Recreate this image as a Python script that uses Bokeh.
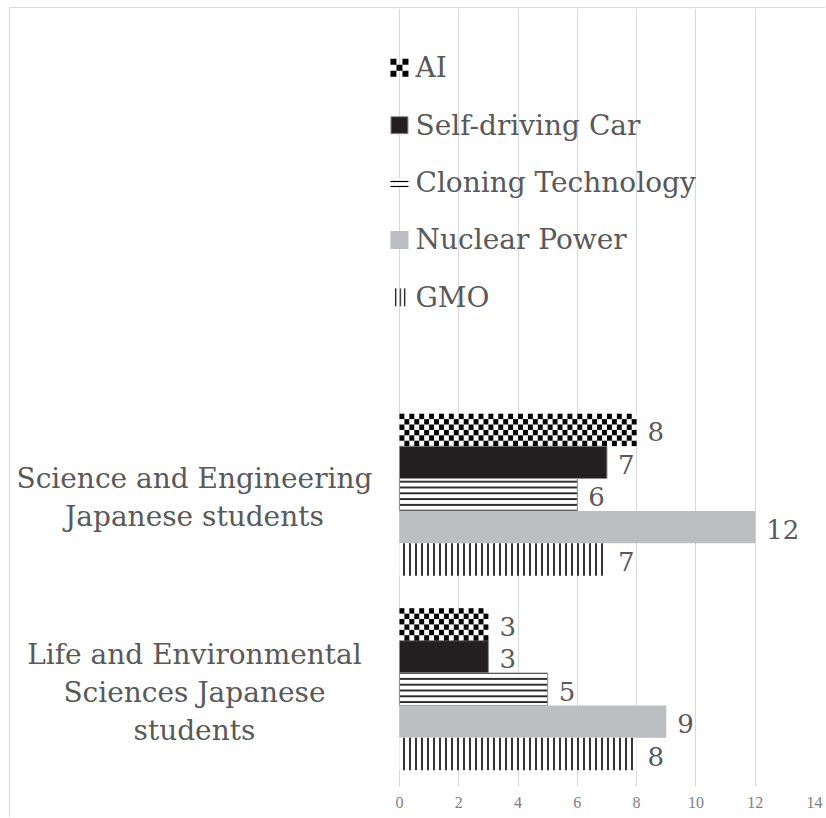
from bokeh.plotting import figure
from bokeh.models import ColumnDataSource, Range1d, FixedTicker
from bokeh.core.properties import value
from bokeh.embed import file_html
from bokeh.resources import INLINE

# ---- data ----
categories = ["Life and Environmental\nSciences Japanese\nstudents",
              "Science and Engineering\nJapanese students"]
series = ["AI", "Self-driving Car", "Cloning Technology", "Nuclear Power", "GMO"]
ai = [3, 8]
self_driving = [3, 7]
cloning = [5, 6]
nuclear = [9, 12]
gmo = [8, 7]
x_ticks = [0, 2, 4, 6, 8, 10, 12, 14]

values = [ai, self_driving, cloning, nuclear, gmo]

SERIF = "DejaVu Serif"
TXT = "#595959"
GRID = "#d9d9d9"

# frame geometry (px) and ranges
FW, FH = 804, 778
X0, X1 = -13.12, 14.0
Y0, Y1 = 0.0, 4.0
PXX = (X1 - X0) / FW   # data units per px (x)
PXY = (Y1 - Y0) / FH   # data units per px (y)

p = figure(width=816, height=810, output_backend="svg", toolbar_location=None,
           x_range=Range1d(X0, X1), y_range=Range1d(Y0, Y1),
           min_border_left=0, min_border_right=12, min_border_top=0, min_border_bottom=32)
p.styles = {"margin-left": "9px", "margin-top": "7px",
            "border-left": "1px solid " + GRID, "border-top": "1px solid " + GRID}
p.outline_line_color = None
p.background_fill_color = "white"
p.border_fill_color = "white"

# two category slots at bottom; legend sits in the upper two slots
cat_pos = [i + 0.5 for i in range(len(categories))]
bar_h = 0.8333 / len(series)
offsets = [2 * bar_h, bar_h, 0.0, -bar_h, -2 * bar_h]

styles = [
    dict(fill_color="white", line_color=None),
    dict(fill_color="#231f20", line_color="#8c8c8c", line_width=1),
    dict(fill_color="white", line_color="#8c8c8c", line_width=1, hatch_pattern="horizontal_line",
         hatch_color="black", hatch_scale=5.8, hatch_weight=1.6),
    dict(fill_color="#bdbec1", line_color=None),
    dict(fill_color="white", line_color=None, hatch_pattern="vertical_line",
         hatch_color="black", hatch_scale=6, hatch_weight=1.6),
]

for name, vals, off, st in zip(series, values, offsets, styles):
    ys = [c + off for c in cat_pos]
    src = ColumnDataSource(dict(y=ys, right=vals, lbl=[str(v) for v in vals]))
    p.hbar(y="y", left=0, right="right", height=bar_h, source=src, **st)
    p.text(x="right", y="y", text="lbl", source=src, x_offset=11, y_offset=2, text_align="left",
           text_baseline="middle", text_font=value(SERIF), text_font_size="26px", text_color=TXT)

# checkerboard cells for the AI bars (6 rows, 6 cells per unit)
cx, cy = [], []
cw = 1.0 / 6
chh = bar_h / 6
for v, c in zip(ai, cat_pos):
    top = c + offsets[0] + bar_h / 2
    for r in range(6):
        for k in range(int(round(v * 6))):
            if (r + k) % 2 == 0:
                cx.append((k + 0.5) * cw)
                cy.append(top - (r + 0.5) * chh)
p.rect(x=cx, y=cy, width=cw, height=chh, fill_color="black", line_color=None)

# category labels
p.text(x=[-205 * PXX] * len(categories), y=cat_pos, text=categories, text_align="center",
       text_baseline="middle", y_offset=3, text_font=value(SERIF), text_font_size="28px",
       text_color=TXT, text_line_height=1.15)

# ---- legend (drawn in the upper empty slots) ----
leg_y = [3.695 - 0.295 * i for i in range(len(series))]
p.text(x=[16 * PXX] * len(series), y=leg_y, text=series, text_align="left",
       text_baseline="middle", text_font=value(SERIF), text_font_size="28px", text_color=TXT)
# AI: 3x3 checker
ax, ay = [], []
for r in (-1, 0, 1):
    for k in (-1, 0, 1):
        if (r + k) % 2 == 0:
            ax.append(k * 6 * PXX)
            ay.append(leg_y[0] + r * 6 * PXY)
p.rect(x=ax, y=ay, width=6, height=6, width_units="screen", height_units="screen",
       fill_color="black", line_color=None)
p.rect(x=[0], y=[leg_y[1]], width=17, height=17, width_units="screen", height_units="screen",
       fill_color="#231f20", line_color="#8c8c8c")
p.rect(x=[0], y=[leg_y[2]], width=18, height=10, width_units="screen", height_units="screen",
       fill_color="white", line_color=None, hatch_pattern="horizontal_line",
       hatch_color="black", hatch_scale=5, hatch_weight=1.2)
p.rect(x=[0], y=[leg_y[3]], width=18, height=18, width_units="screen", height_units="screen",
       fill_color="#bdbec1", line_color=None)
p.rect(x=[0], y=[leg_y[4]], width=13, height=18, width_units="screen", height_units="screen",
       fill_color="white", line_color=None, hatch_pattern="vertical_line",
       hatch_color="black", hatch_scale=4.5, hatch_weight=1.2)

# axes / grid
p.yaxis.visible = False
p.ygrid.grid_line_color = None
p.xgrid.grid_line_color = GRID
p.xgrid.ticker = FixedTicker(ticks=x_ticks)
p.xaxis.ticker = FixedTicker(ticks=x_ticks)
p.xaxis.axis_line_color = None
p.xaxis.major_tick_line_color = None
p.xaxis.minor_tick_line_color = None
p.xaxis.major_tick_out = 0
p.xaxis.major_tick_in = 0
p.xaxis.major_label_standoff = 10
p.xaxis.major_label_text_font = "Liberation Serif"
p.xaxis.major_label_text_font_size = "16px"
p.xaxis.major_label_text_color = "#7f7f7f"

open("out.html", "w").write(file_html(p, INLINE))
